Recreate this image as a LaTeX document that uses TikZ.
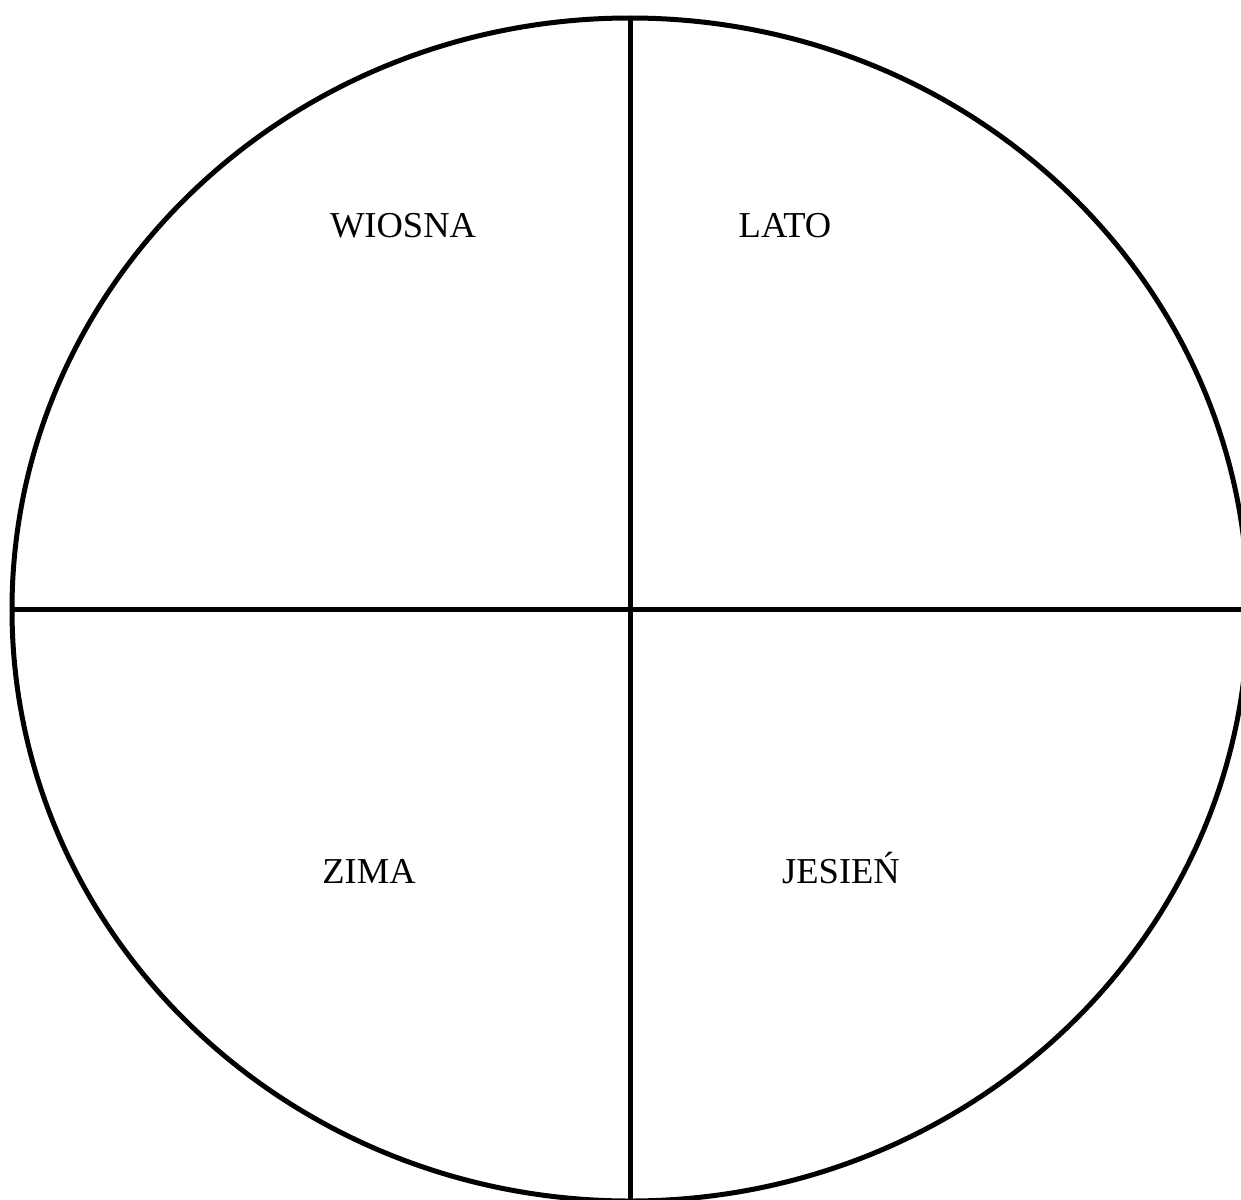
\documentclass[tikz,border=0pt]{standalone}
\usepackage{fontspec}
\setmainfont{Liberation Serif}
\begin{document}
\begin{tikzpicture}[
		x=1pt, y=-1pt,
		season/.style = {anchor=base, font=\fontsize{36.5}{40}\selectfont},
		rim/.style    = {line width=5pt},
		axis/.style   = {line width=5pt}
		]
		\useasboundingbox (0,0) rectangle (1241,1199);
		
		% === === Circle === ===
		\coordinate (c) at (630, 609.5);
		\draw[rim] (c) ellipse [x radius=618, y radius=591.5];
		
		% === === Lines === ===
		\coordinate (top)    at (630, 18);
		\coordinate (bottom) at (630, 1205);
		\coordinate (left)   at (12, 609.5);
		\coordinate (right)  at (1245, 609.5);
		\draw[axis] (top)  -- (bottom);
		\draw[axis] (left) -- (right);
		
		% === === Labels === ===
		\node[season] (spring) at (403, 237) {WIOSNA};
		\node[season] (summer) at (785, 237) {LATO};
		\node[season] (winter) at (369, 883) {ZIMA};
		\node[season] (autumn) at (841, 883) {JESIEŃ};
		
	\end{tikzpicture}
\end{document}
